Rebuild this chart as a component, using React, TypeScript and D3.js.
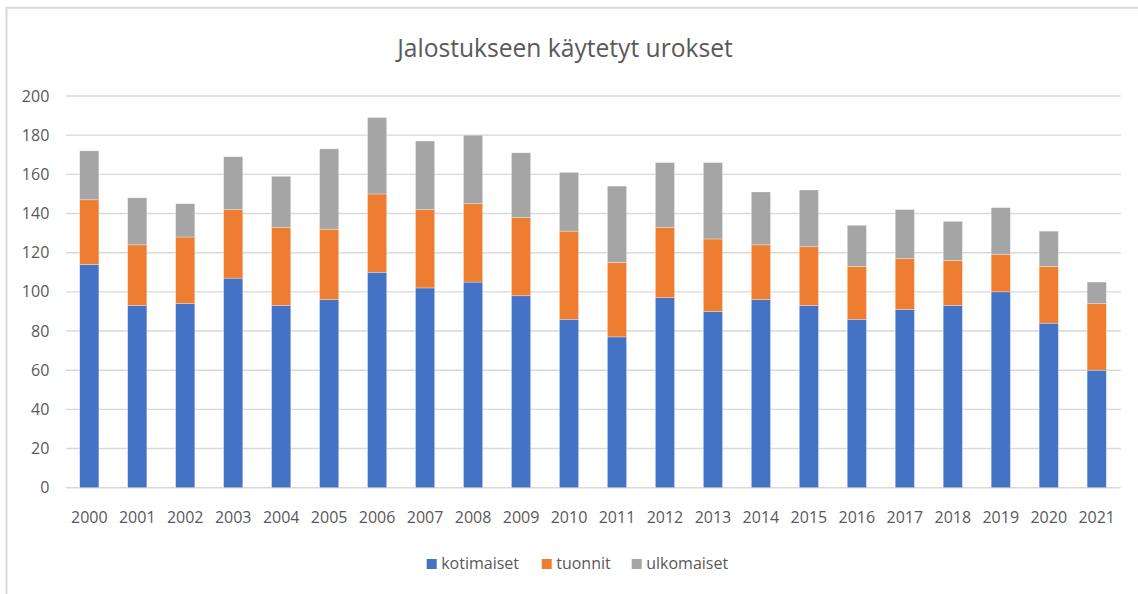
import React from "react";
import * as d3 from "d3";

const years = ["2000","2001","2002","2003","2004","2005","2006","2007","2008","2009","2010","2011","2012","2013","2014","2015","2016","2017","2018","2019","2020","2021"];
const kotimaiset = [114, 93, 94, 107, 93, 96, 110, 102, 105, 98, 86, 77, 97, 90, 96, 93, 86, 91, 93, 100, 84, 60];
const tuonnit =    [33, 31, 34, 35, 40, 36, 40, 40, 40, 40, 45, 38, 36, 37, 28, 30, 27, 26, 23, 19, 29, 34];
const ulkomaiset = [25, 24, 17, 27, 26, 41, 39, 35, 35, 33, 30, 39, 33, 39, 27, 29, 21, 25, 20, 24, 18, 11];
const seriesNames = ["kotimaiset", "tuonnit", "ulkomaiset"];
const colors = ["#4472C4", "#ED7D31", "#A5A5A5"];
const yTicks = [0, 20, 40, 60, 80, 100, 120, 140, 160, 180, 200];

const W = 1138, H = 594;
const FONT = "'Open Sans', 'Liberation Sans', sans-serif";

export default function App() {
  const x = d3.scaleBand<string>().domain(years).range([65.3, 1120.7]).paddingInner(0.6).paddingOuter(0.3);
  const y = d3.scaleLinear().domain([0, 200]).range([487.7, 96]);
  const rows = years.map((yr, i) => ({ year: yr, kotimaiset: kotimaiset[i], tuonnit: tuonnit[i], ulkomaiset: ulkomaiset[i] }));
  const stack = d3.stack<any>().keys(seriesNames)(rows);

  const legendItems = [
    { name: "kotimaiset", sq: 426.7, color: colors[0] },
    { name: "tuonnit", sq: 541.7, color: colors[1] },
    { name: "ulkomaiset", sq: 631.7, color: colors[2] },
  ];

  return (
    <svg width={W} height={H} style={{ position: "absolute", left: 0, top: 0, background: "#fff" }} fontFamily={FONT}>
      <rect x={0} y={0} width={W} height={H} fill="#fff" />
      <line x1={6} x2={W} y1={7.8} y2={7.8} stroke="#d9d9d9" strokeWidth={2} />
      <line x1={6.5} x2={6.5} y1={7} y2={H} stroke="#d9d9d9" strokeWidth={2} />
      <text x={565} y={57} textAnchor="middle" fontSize={24.6} fill="#595959">Jalostukseen käytetyt urokset</text>
      {yTicks.map(t => (
        <g key={t}>
          <line x1={66} x2={1120.7} y1={y(t)} y2={y(t)} stroke="#d9d9d9" strokeWidth={1.4} />
          <text x={49.3} y={y(t) + 5.6} textAnchor="end" fontSize={16} fill="#595959">{t}</text>
        </g>
      ))}
      {stack.map((s, si) => (
        <g key={seriesNames[si]} fill={colors[si]}>
          {s.map((d, i) => (
            <rect key={i} x={x(years[i])!} width={x.bandwidth()} y={y(d[1])} height={y(d[0]) - y(d[1])} stroke="#ffffff" strokeOpacity={0.5} strokeWidth={0.6} />
          ))}
        </g>
      ))}
      {years.map(yr => (
        <text key={yr} x={x(yr)! + x.bandwidth() / 2} y={523.3} textAnchor="middle" fontSize={16} fill="#595959">{yr}</text>
      ))}
      {legendItems.map(l => (
        <g key={l.name}>
          <rect x={l.sq} y={559} width={10} height={10} fill={l.color} />
          <text x={l.sq + 14.5} y={569.3} fontSize={16} fill="#595959">{l.name}</text>
        </g>
      ))}
    </svg>
  );
}
